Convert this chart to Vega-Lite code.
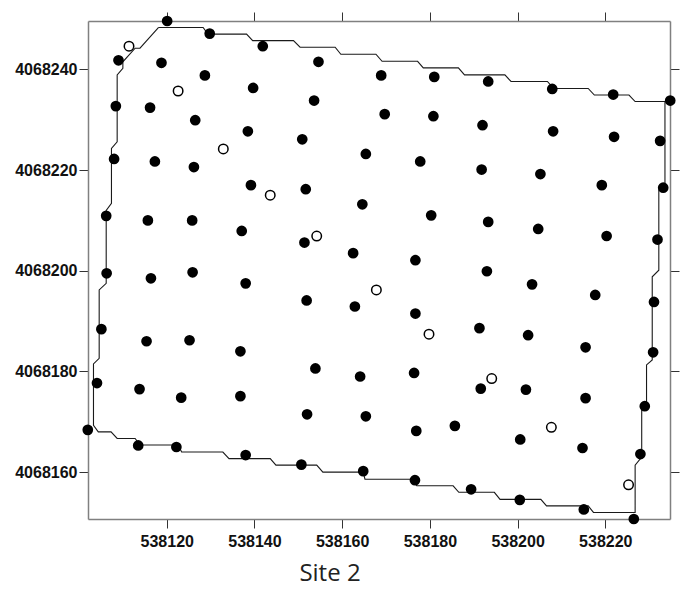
{
  "$schema": "https://vega.github.io/schema/vega-lite/v6.json",
  "autosize": "none",
  "width": 582,
  "height": 498,
  "padding": {"left": 88, "top": 21, "right": 13, "bottom": 71},
  "background": "white",
  "title": {"text": "Site 2", "orient": "bottom", "anchor": "middle", "dx": -49, "offset": 13, "font": "Open Sans", "fontSize": 24, "fontWeight": "normal", "color": "#222222"},
  "datasets": {
    "boundary": [
      {"i": 1, "x": 538118.1, "y": 4068248.3},
      {"i": 2, "x": 538128.3, "y": 4068248.3},
      {"i": 3, "x": 538129.4, "y": 4068247.0},
      {"i": 4, "x": 538138.2, "y": 4068247.0},
      {"i": 5, "x": 538139.6, "y": 4068245.7},
      {"i": 6, "x": 538148.9, "y": 4068245.7},
      {"i": 7, "x": 538150.4, "y": 4068244.4},
      {"i": 8, "x": 538158.4, "y": 4068244.4},
      {"i": 9, "x": 538159.7, "y": 4068243.0},
      {"i": 10, "x": 538167.7, "y": 4068243.0},
      {"i": 11, "x": 538169.1, "y": 4068241.6},
      {"i": 12, "x": 538177.2, "y": 4068241.6},
      {"i": 13, "x": 538178.5, "y": 4068240.3},
      {"i": 14, "x": 538186.5, "y": 4068240.3},
      {"i": 15, "x": 538187.9, "y": 4068238.9},
      {"i": 16, "x": 538197.1, "y": 4068238.9},
      {"i": 17, "x": 538198.5, "y": 4068237.6},
      {"i": 18, "x": 538206.8, "y": 4068237.6},
      {"i": 19, "x": 538208.2, "y": 4068236.2},
      {"i": 20, "x": 538216.1, "y": 4068236.2},
      {"i": 21, "x": 538217.5, "y": 4068234.9},
      {"i": 22, "x": 538225.4, "y": 4068234.9},
      {"i": 23, "x": 538226.8, "y": 4068233.6},
      {"i": 24, "x": 538233.6, "y": 4068233.6},
      {"i": 25, "x": 538233.6, "y": 4068217.4},
      {"i": 26, "x": 538232.2, "y": 4068216.0},
      {"i": 27, "x": 538232.2, "y": 4068200.1},
      {"i": 28, "x": 538230.7, "y": 4068198.8},
      {"i": 29, "x": 538230.7, "y": 4068182.3},
      {"i": 30, "x": 538229.4, "y": 4068181.3},
      {"i": 31, "x": 538229.4, "y": 4068173.6},
      {"i": 32, "x": 538228.3, "y": 4068172.3},
      {"i": 33, "x": 538228.3, "y": 4068163.0},
      {"i": 34, "x": 538226.8, "y": 4068161.4},
      {"i": 35, "x": 538226.8, "y": 4068152.0},
      {"i": 36, "x": 538217.3, "y": 4068152.0},
      {"i": 37, "x": 538216.1, "y": 4068153.3},
      {"i": 38, "x": 538206.6, "y": 4068153.3},
      {"i": 39, "x": 538205.3, "y": 4068154.6},
      {"i": 40, "x": 538196.0, "y": 4068154.6},
      {"i": 41, "x": 538194.7, "y": 4068156.0},
      {"i": 42, "x": 538186.6, "y": 4068156.0},
      {"i": 43, "x": 538185.3, "y": 4068157.3},
      {"i": 44, "x": 538177.0, "y": 4068157.3},
      {"i": 45, "x": 538175.9, "y": 4068158.6},
      {"i": 46, "x": 538165.2, "y": 4068158.6},
      {"i": 47, "x": 538164.8, "y": 4068160.0},
      {"i": 48, "x": 538155.6, "y": 4068160.0},
      {"i": 49, "x": 538154.2, "y": 4068161.4},
      {"i": 50, "x": 538144.9, "y": 4068161.4},
      {"i": 51, "x": 538143.6, "y": 4068162.7},
      {"i": 52, "x": 538134.2, "y": 4068162.7},
      {"i": 53, "x": 538132.8, "y": 4068164.0},
      {"i": 54, "x": 538123.4, "y": 4068164.0},
      {"i": 55, "x": 538122.6, "y": 4068165.4},
      {"i": 56, "x": 538113.9, "y": 4068165.4},
      {"i": 57, "x": 538112.8, "y": 4068166.7},
      {"i": 58, "x": 538108.7, "y": 4068166.7},
      {"i": 59, "x": 538107.3, "y": 4068168.0},
      {"i": 60, "x": 538104.4, "y": 4068168.0},
      {"i": 61, "x": 538103.3, "y": 4068169.3},
      {"i": 62, "x": 538103.3, "y": 4068181.5},
      {"i": 63, "x": 538104.6, "y": 4068182.6},
      {"i": 64, "x": 538104.6, "y": 4068196.2},
      {"i": 65, "x": 538106.2, "y": 4068197.5},
      {"i": 66, "x": 538106.2, "y": 4068212.0},
      {"i": 67, "x": 538107.4, "y": 4068213.4},
      {"i": 68, "x": 538107.4, "y": 4068224.3},
      {"i": 69, "x": 538108.7, "y": 4068225.6},
      {"i": 70, "x": 538108.7, "y": 4068238.9},
      {"i": 71, "x": 538110.0, "y": 4068240.2},
      {"i": 72, "x": 538110.0, "y": 4068241.5},
      {"i": 73, "x": 538112.8, "y": 4068244.2},
      {"i": 74, "x": 538113.9, "y": 4068244.2},
      {"i": 75, "x": 538118.1, "y": 4068248.3}
    ],
    "filled": [
      {"x": 538120.1, "y": 4068249.6}, {"x": 538129.8, "y": 4068247.1}, {"x": 538141.9, "y": 4068244.6},
      {"x": 538109.0, "y": 4068241.8}, {"x": 538118.8, "y": 4068241.3}, {"x": 538154.6, "y": 4068241.5},
      {"x": 538128.7, "y": 4068238.8}, {"x": 538139.7, "y": 4068236.3}, {"x": 538108.4, "y": 4068232.7},
      {"x": 538116.2, "y": 4068232.4}, {"x": 538153.6, "y": 4068233.8}, {"x": 538126.5, "y": 4068229.9},
      {"x": 538138.5, "y": 4068227.7}, {"x": 538150.9, "y": 4068226.1}, {"x": 538108.0, "y": 4068222.2},
      {"x": 538117.3, "y": 4068221.7}, {"x": 538126.2, "y": 4068220.6}, {"x": 538139.2, "y": 4068217.0},
      {"x": 538151.7, "y": 4068216.2}, {"x": 538106.2, "y": 4068210.9}, {"x": 538115.7, "y": 4068210.0},
      {"x": 538125.8, "y": 4068210.0}, {"x": 538137.1, "y": 4068207.9}, {"x": 538151.4, "y": 4068205.6},
      {"x": 538106.3, "y": 4068199.5}, {"x": 538116.4, "y": 4068198.5}, {"x": 538125.9, "y": 4068199.7},
      {"x": 538138.0, "y": 4068197.5}, {"x": 538151.9, "y": 4068194.1}, {"x": 538168.9, "y": 4068238.8},
      {"x": 538181.0, "y": 4068238.5}, {"x": 538193.3, "y": 4068237.6}, {"x": 538207.9, "y": 4068236.1},
      {"x": 538221.8, "y": 4068235.0}, {"x": 538234.8, "y": 4068233.8}, {"x": 538169.7, "y": 4068231.1},
      {"x": 538180.8, "y": 4068230.7}, {"x": 538192.0, "y": 4068228.9}, {"x": 538208.1, "y": 4068227.7},
      {"x": 538222.0, "y": 4068226.6}, {"x": 538232.5, "y": 4068225.8}, {"x": 538165.4, "y": 4068223.2},
      {"x": 538177.8, "y": 4068221.7}, {"x": 538191.8, "y": 4068220.1}, {"x": 538205.2, "y": 4068219.2},
      {"x": 538219.2, "y": 4068217.0}, {"x": 538233.2, "y": 4068216.5}, {"x": 538164.6, "y": 4068213.2},
      {"x": 538180.3, "y": 4068211.0}, {"x": 538193.3, "y": 4068209.7}, {"x": 538204.7, "y": 4068208.3},
      {"x": 538220.3, "y": 4068206.9}, {"x": 538231.9, "y": 4068206.2}, {"x": 538162.5, "y": 4068203.5},
      {"x": 538176.7, "y": 4068202.1}, {"x": 538193.0, "y": 4068199.9}, {"x": 538203.3, "y": 4068197.3},
      {"x": 538217.7, "y": 4068195.2}, {"x": 538231.1, "y": 4068193.8}, {"x": 538105.1, "y": 4068188.4},
      {"x": 538115.4, "y": 4068186.0}, {"x": 538125.2, "y": 4068186.2}, {"x": 538136.8, "y": 4068184.0},
      {"x": 538153.9, "y": 4068180.6}, {"x": 538104.1, "y": 4068177.7}, {"x": 538113.8, "y": 4068176.5},
      {"x": 538123.3, "y": 4068174.8}, {"x": 538136.8, "y": 4068175.1}, {"x": 538152.0, "y": 4068171.5},
      {"x": 538102.0, "y": 4068168.4}, {"x": 538113.5, "y": 4068165.3}, {"x": 538122.2, "y": 4068165.0},
      {"x": 538138.0, "y": 4068163.4}, {"x": 538150.7, "y": 4068161.5}, {"x": 538162.9, "y": 4068192.9},
      {"x": 538176.7, "y": 4068191.5}, {"x": 538191.3, "y": 4068188.6}, {"x": 538202.4, "y": 4068187.2},
      {"x": 538215.5, "y": 4068184.8}, {"x": 538230.9, "y": 4068183.8}, {"x": 538164.1, "y": 4068179.0},
      {"x": 538176.4, "y": 4068179.7}, {"x": 538191.6, "y": 4068176.6}, {"x": 538201.9, "y": 4068176.4},
      {"x": 538215.5, "y": 4068174.7}, {"x": 538229.0, "y": 4068173.1}, {"x": 538165.4, "y": 4068171.1},
      {"x": 538176.9, "y": 4068168.2}, {"x": 538185.7, "y": 4068169.2}, {"x": 538200.6, "y": 4068166.5},
      {"x": 538214.8, "y": 4068164.8}, {"x": 538228.0, "y": 4068163.6}, {"x": 538164.8, "y": 4068160.2},
      {"x": 538176.6, "y": 4068158.4}, {"x": 538189.4, "y": 4068156.6}, {"x": 538200.5, "y": 4068154.5},
      {"x": 538215.1, "y": 4068152.6}, {"x": 538226.5, "y": 4068150.7}
    ],
    "open": [
      {"x": 538111.4, "y": 4068244.6}, {"x": 538122.6, "y": 4068235.7}, {"x": 538132.9, "y": 4068224.2},
      {"x": 538143.6, "y": 4068215.0}, {"x": 538154.2, "y": 4068206.9}, {"x": 538167.8, "y": 4068196.2},
      {"x": 538179.8, "y": 4068187.4}, {"x": 538194.1, "y": 4068178.6}, {"x": 538207.7, "y": 4068168.9},
      {"x": 538225.3, "y": 4068157.5}
    ]
  },
  "resolve": {"axis": {"x": "independent", "y": "independent"}},
  "layer": [
    {
      "data": {"name": "boundary"},
      "mark": {"type": "line", "stroke": "#1a1a1a", "strokeWidth": 1.1, "interpolate": "linear"},
      "encoding": {
        "x": {"field": "x", "type": "quantitative",
              "scale": {"domain": [538102.05, 538234.75], "nice": false, "zero": false},
              "axis": {"orient": "bottom", "title": null, "values": [538120, 538140, 538160, 538180, 538200, 538220], "format": "d", "labelPadding": 5}},
        "y": {"field": "y", "type": "quantitative",
              "scale": {"domain": [4068150.7, 4068249.6], "nice": false, "zero": false},
              "axis": {"orient": "left", "title": null, "values": [4068160, 4068180, 4068200, 4068220, 4068240], "format": "d", "labelPadding": 2}},
        "order": {"field": "i", "type": "quantitative"}
      }
    },
    {
      "data": {"name": "filled"},
      "mark": {"type": "point", "shape": "circle", "filled": true, "fill": "#000000", "opacity": 1, "size": 115},
      "encoding": {
        "x": {"field": "x", "type": "quantitative",
              "axis": {"orient": "top", "title": null, "labels": false, "values": [538120, 538140, 538160, 538180, 538200, 538220]}},
        "y": {"field": "y", "type": "quantitative",
              "axis": {"orient": "right", "title": null, "labels": false, "values": [4068160, 4068180, 4068200, 4068220, 4068240]}}
      }
    },
    {
      "data": {"name": "open"},
      "mark": {"type": "point", "shape": "circle", "filled": false, "fill": "#ffffff", "fillOpacity": 1, "stroke": "#000000", "strokeWidth": 1.5, "opacity": 1, "size": 90},
      "encoding": {
        "x": {"field": "x", "type": "quantitative", "axis": null},
        "y": {"field": "y", "type": "quantitative", "axis": null}
      }
    }
  ],
  "config": {
    "view": {"stroke": null},
    "axis": {
      "grid": false,
      "domainColor": "#808080",
      "domainWidth": 1.5,
      "tickColor": "#333333",
      "tickWidth": 1,
      "tickSize": 9,
      "labelFont": "Liberation Sans",
      "labelFontSize": 16,
      "labelFontWeight": "bold",
      "labelColor": "#111111"
    }
  }
}
